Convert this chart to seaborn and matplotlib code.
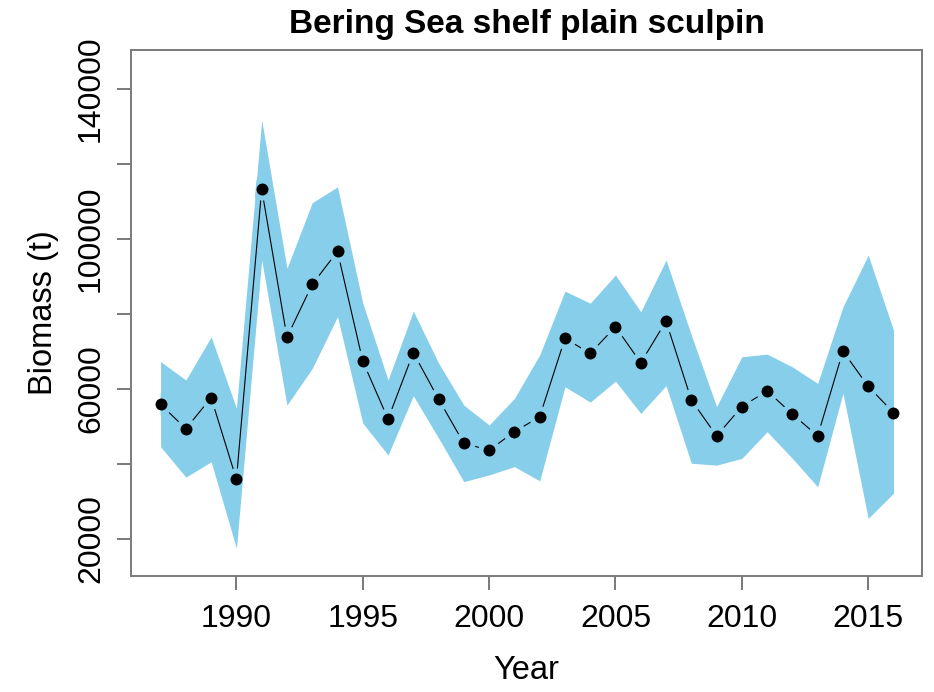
import numpy as np
import pandas as pd
import seaborn as sns
import matplotlib.pyplot as plt

years = list(range(1987, 2017))
biomass = [55900, 49400, 57700, 35900, 113300, 73800, 87900, 96700, 67400, 52000,
           69700, 57300, 45500, 43700, 48600, 52600, 73500, 69500, 76600, 67000,
           78100, 57100, 47500, 55300, 59500, 53300, 47500, 70100, 60700, 53700]
upper = [67300, 62400, 73900, 54900, 131700, 92200, 109700, 113900, 82900, 62400,
         80800, 66900, 55700, 50400, 57500, 69100, 86100, 82900, 90400, 80600,
         94400, 74400, 55300, 68600, 69300, 65900, 61500, 81900, 95700, 75700]
lower = [44600, 36500, 40600, 17500, 94400, 55700, 65500, 79300, 50900, 42400,
         58200, 46900, 35300, 37100, 39300, 35500, 60600, 56500, 62100, 53500,
         60900, 40200, 39700, 41500, 48600, 41500, 33900, 58900, 25500, 32200]

df = pd.DataFrame({'Year': years, 'Biomass': biomass, 'upper': upper, 'lower': lower})

band = '#87CEEB'
axis_grey = '#7a7a7a'

sns.set_style('white')
plt.rcParams['font.family'] = ['Liberation Sans', 'DejaVu Sans']
plt.rcParams['text.color'] = 'black'
plt.rcParams['axes.labelcolor'] = 'black'
plt.rcParams['xtick.color'] = 'black'
plt.rcParams['ytick.color'] = 'black'

fig = plt.figure(figsize=(9.34, 6.92), dpi=100)
ax = fig.add_axes([0.1403, 0.1676, 0.8469, 0.7601])

poly = ax.fill_between(df['Year'], df['lower'], df['upper'], color=band, linewidth=0)
sns.lineplot(x='Year', y='Biomass', data=df, ax=ax, color='black', linewidth=0.8,
             estimator=None)

# gap around the points like R's type="b", only where it sits on the band
sns.scatterplot(x='Year', y='Biomass', data=df, ax=ax, color=band, s=16 ** 2,
                linewidth=0, zorder=3)
ring = ax.collections[-1]
ring.set_clip_path(poly.get_paths()[0], ax.transData)
sns.scatterplot(x='Year', y='Biomass', data=df, ax=ax, color='black', s=8.6 ** 2,
                linewidth=0, zorder=4)

ax.set_xlim(1985.83, 2017.13)
ax.set_ylim(10130, 150400)

ax.set_xticks([1990, 1995, 2000, 2005, 2010, 2015])
yt = [20000, 40000, 60000, 80000, 100000, 120000, 140000]
ax.set_yticks(yt)
ax.set_yticklabels([str(v) if i % 2 == 0 else '' for i, v in enumerate(yt)],
                   rotation=90, va='center')

ax.tick_params(axis='both', direction='out', length=10, width=1.1, color='#555555',
               labelsize=23, left=True, bottom=True)
ax.tick_params(axis='x', pad=10)
ax.tick_params(axis='y', pad=8)
for s in ax.spines.values():
    s.set_visible(True)
    s.set_color(axis_grey)
    s.set_linewidth(1.4)

ax.set_xlabel('Year', fontsize=23.5, labelpad=15)
ax.set_ylabel('Biomass (t)', fontsize=23.5, labelpad=12)
ax.set_title('Bering Sea shelf plain sculpin', fontsize=24, fontweight='bold', pad=12)

fig.savefig('out.png', dpi=100)
